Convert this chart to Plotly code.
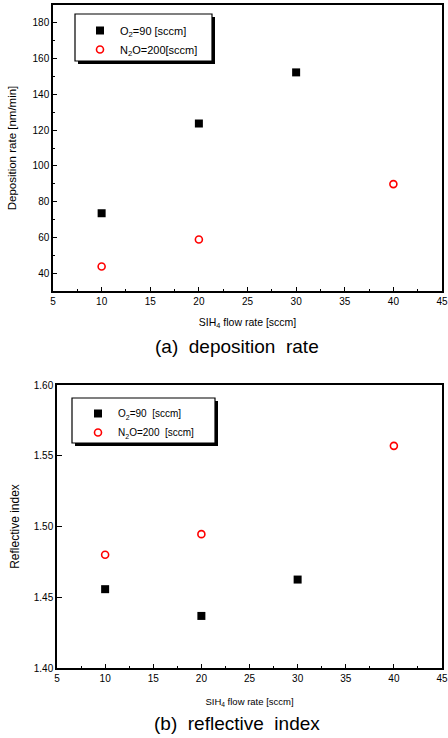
import plotly.graph_objects as go

# Data
x_o2_a = [10, 20, 30]
dep_o2 = [73.5, 123.7, 152.3]
x_n2o_a = [10, 20, 40]
dep_n2o = [43.7, 58.8, 89.8]

x_o2_b = [10, 20, 30]
ri_o2 = [1.4557, 1.4368, 1.4625]
x_n2o_b = [10, 20, 40]
ri_n2o = [1.480, 1.4946, 1.557]

x_ticks = [5, 10, 15, 20, 25, 30, 35, 40, 45]

W, H = 448, 738
FONT = "Liberation Sans, Arial, sans-serif"

def px(x):
    return x / W

def py(y):
    return 1 - y / H

fig = go.Figure()

sq = dict(symbol="square", size=8, color="black")
circ = dict(symbol="circle-open", size=7, color="red", line=dict(width=1.6, color="red"))

fig.add_trace(go.Scatter(x=x_o2_a, y=dep_o2, mode="markers", marker=sq,
                         name="O<sub>2</sub>=90 [sccm]", xaxis="x", yaxis="y", legend="legend"))
fig.add_trace(go.Scatter(x=x_n2o_a, y=dep_n2o, mode="markers", marker=circ,
                         name="N<sub>2</sub>O=200[sccm]", xaxis="x", yaxis="y", legend="legend"))
fig.add_trace(go.Scatter(x=x_o2_b, y=ri_o2, mode="markers", marker=sq,
                         name="O<sub>2</sub>=90  [sccm]", xaxis="x2", yaxis="y2", legend="legend2"))
fig.add_trace(go.Scatter(x=x_n2o_b, y=ri_n2o, mode="markers", marker=circ,
                         name="N<sub>2</sub>O=200  [sccm]", xaxis="x2", yaxis="y2", legend="legend2"))

axcommon = dict(showline=True, linecolor="black", linewidth=1.5, mirror=True,
                ticks="inside", ticklen=4, tickcolor="black", showgrid=False,
                zeroline=False, automargin=False, ticklabeloverflow="allow",
                tickfont=dict(family=FONT, size=10, color="black"))

xa = dict(axcommon, range=[5, 45], tickmode="array", tickvals=x_ticks,
          ticktext=[str(t) for t in x_ticks],
          minor=dict(dtick=2.5, tick0=5, ticks="inside", ticklen=2.5, tickcolor="black"))

fig.update_layout(
    width=W, height=H,
    margin=dict(l=0, r=0, t=0, b=0),
    paper_bgcolor="white", plot_bgcolor="white",
    font=dict(family=FONT, color="black"),
    xaxis=dict(xa, domain=[px(53), px(442)], anchor="y",
               title=dict(text="SIH<sub>4</sub> flow rate [sccm]", standoff=13,
                          font=dict(size=10.5, family=FONT))),
    yaxis=dict(axcommon, domain=[py(291), py(5)], anchor="x", range=[30, 190], dtick=20, tick0=40,
               minor=dict(dtick=10, ticks="inside", ticklen=2.5, tickcolor="black"),
               title=dict(text="Deposition rate [nm/min]", standoff=14,
                          font=dict(size=11.5, family=FONT))),
    xaxis2=dict(xa, domain=[px(57), px(442)], anchor="y2",
                title=dict(text="SIH<sub>4</sub> flow rate [sccm]", standoff=16,
                           font=dict(size=9.5, family=FONT))),
    yaxis2=dict(axcommon, domain=[py(668), py(385)], anchor="x2", range=[1.40, 1.60], dtick=0.05,
                tick0=1.40, tickformat=".2f", ticklen=5,
                title=dict(text="Reflective index", standoff=12,
                           font=dict(size=12, family=FONT))),
    legend=dict(x=px(80), y=py(16), xanchor="left", yanchor="top",
                bgcolor="rgba(0,0,0,0)", borderwidth=0,
                font=dict(family=FONT, size=11), tracegroupgap=2, itemsizing="trace"),
    legend2=dict(x=px(78), y=py(399), xanchor="left", yanchor="top",
                 bgcolor="rgba(0,0,0,0)", borderwidth=0,
                 font=dict(family=FONT, size=10), tracegroupgap=2, itemsizing="trace"),
    showlegend=True,
)

# legend boxes with drop shadows
shapes = []
for (x0, y0, x1, y1) in [(75, 14, 212, 61), (72, 398, 215, 443)]:
    shapes.append(dict(type="rect", xref="paper", yref="paper",
                       x0=px(x0 + 3), x1=px(x1 + 3), y0=py(y1 + 3), y1=py(y0 + 3),
                       fillcolor="black", line=dict(width=0), layer="above"))
    shapes.append(dict(type="rect", xref="paper", yref="paper",
                       x0=px(x0), x1=px(x1), y0=py(y1), y1=py(y0),
                       fillcolor="white", line=dict(width=1.2, color="black"), layer="above"))
fig.update_layout(shapes=shapes)

fig.add_annotation(text="(a)  deposition  rate", x=px(237), y=py(346), xref="paper", yref="paper",
                   xanchor="center", yanchor="middle",
                   showarrow=False, font=dict(family=FONT, size=19, color="black"))
fig.add_annotation(text="(b)  reflective  index", x=px(237), y=py(723), xref="paper", yref="paper",
                   xanchor="center", yanchor="middle",
                   showarrow=False, font=dict(family=FONT, size=19, color="black"))

fig.write_html("out.html", config={"displayModeBar": False},
               post_script="document.body.style.margin='0';document.body.style.overflow='hidden';")
